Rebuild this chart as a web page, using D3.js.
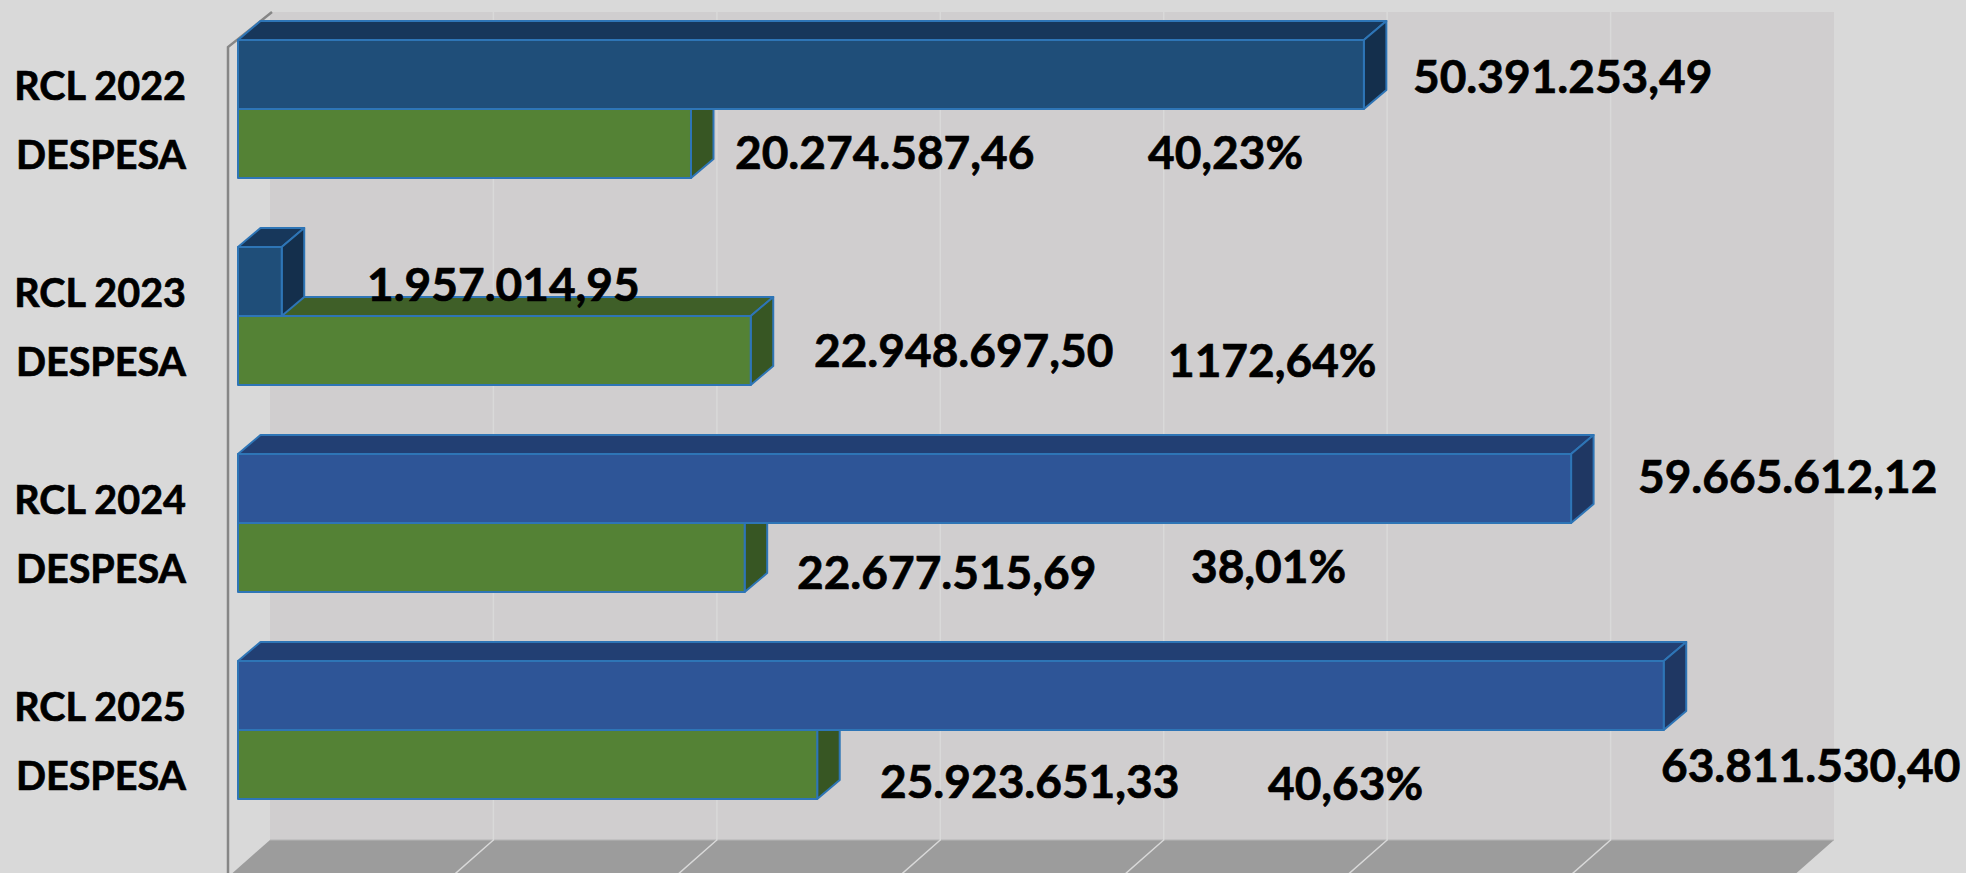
<!DOCTYPE html>
<html><head><meta charset="utf-8">
<script src="https://cdn.jsdelivr.net/npm/d3@7"></script>
<style>html,body{margin:0;padding:0;background:#d9d9d9;overflow:hidden}svg{display:block}text{font-family:Lato,"Open Sans",sans-serif;font-weight:700;fill:#000;stroke:#000;stroke-width:0.7px}</style>
</head><body><div id="chart"></div>
<script>
const years = ["2022","2023","2024","2025"];
const rclLabels = ["RCL 2022","RCL 2023","RCL 2024","RCL 2025"];
const despesaLabel = "DESPESA";
const rclValues = [50391253.49,1957014.95,59665612.12,63811530.40];
const despesaValues = [20274587.46,22948697.50,22677515.69,25923651.33];
const rclText = ["50.391.253,49","1.957.014,95","59.665.612,12","63.811.530,40"];
const despesaText = ["20.274.587,46","22.948.697,50","22.677.515,69","25.923.651,33"];
const pctText = ["40,23%","1172,64%","38,01%","40,63%"];
// palettes per year
const rclFront = ["#1f4e79","#1f4e79","#2e5597","#2e5597"];
const rclTop = ["#17375b","#17375b","#223f73","#223f73"];
const rclSide = ["#142f4c","#142f4c","#1f3763","#1f3763"];
// hand placement of the data labels [x, baseline]
const rclLabelPos = [[1413,93],[367,301],[1638,493],[1661,782]];
const despesaLabelPos = [[735,169],[814,367],[797,589],[880,798]];
const pctLabelPos = [[1148,169],[1168,377],[1191,583],[1268,800]];

const W=1966,H=873,dx=22.5,dy=19;
const svg=d3.select("#chart").append("svg").attr("width",W).attr("height",H);
const x=d3.scaleLinear().domain([0,70000000]).range([238,1802]);
const y=d3.scaleBand().domain(years).range([40,799]).paddingInner(1/3);
const rowH=y.bandwidth()/2;
const wallDx=32, wallTop=12, wallBottom=840;
const ticks=d3.range(0,80000000,10000000);

// back wall
svg.append("rect").attr("x",x(0)+wallDx).attr("y",wallTop).attr("width",x(70000000)-x(0)).attr("height",wallBottom-wallTop).attr("fill","#d0cecf");
// floor
const flDx=-42,flDy=37;
svg.append("polygon").attr("fill","#9c9c9c").attr("points",[
 [x(0)+wallDx,wallBottom],[x(70000000)+wallDx,wallBottom],[x(70000000)+wallDx+flDx,wallBottom+flDy],[x(0)+wallDx+flDx,wallBottom+flDy]].join(" "));
svg.append("line").attr("x1",x(0)+wallDx).attr("x2",x(70000000)+wallDx).attr("y1",wallBottom).attr("y2",wallBottom).attr("stroke","#b5b5b5").attr("stroke-width",1);
// grid
svg.selectAll(".gw").data(ticks.slice(1,-1)).join("path").attr("class","gw").attr("fill","none").attr("stroke","#d9d9d9").attr("stroke-width",1.5)
 .attr("d",t=>`M${x(t)+wallDx},${wallTop}V${wallBottom}l${flDx},${flDy}`);
// axis wall edge
svg.append("path").attr("fill","none").attr("stroke","#868686").attr("stroke-width",2.5)
 .attr("d",`M${x(0)+wallDx+2},${wallTop}L${x(0)-10},47V${H}`);

function bar(g,v,top,front,topC,side){
 const x0=x(0),x1=x(v),b=top+rowH;
 const s=g.append("g").attr("stroke","#2e75b6").attr("stroke-width",2).attr("stroke-linejoin","round");
 s.append("polygon").attr("fill",topC).attr("points",[[x0,top],[x0+dx,top-dy],[x1+dx,top-dy],[x1,top]].join(" "));
 s.append("polygon").attr("fill",side).attr("points",[[x1,top],[x1+dx,top-dy],[x1+dx,b-dy],[x1,b]].join(" "));
 s.append("rect").attr("x",x0).attr("y",top).attr("width",x1-x0).attr("height",rowH).attr("fill",front);
}
years.forEach((yr,i)=>{
 const g=svg.append("g");
 bar(g,despesaValues[i],y(yr)+rowH,"#548235","#3f5f28","#375623");
 bar(g,rclValues[i],y(yr),rclFront[i],rclTop[i],rclSide[i]);
});
// category labels
const fs=39.5;
years.forEach((yr,i)=>{
 svg.append("text").attr("x",186).attr("y",y(yr)+rowH/2+11.5).attr("dy","0.35em").attr("text-anchor","end").attr("font-size",fs).text(rclLabels[i]);
 svg.append("text").attr("x",186).attr("y",y(yr)+rowH*1.5+11.5).attr("dy","0.35em").attr("text-anchor","end").attr("font-size",fs).text(despesaLabel);
});
// data labels
function labels(txt,pos){
 svg.append("g").selectAll("text").data(txt).join("text").attr("x",(d,i)=>pos[i][0]).attr("y",(d,i)=>pos[i][1]).attr("font-size",46).text(d=>d);
}
labels(rclText,rclLabelPos);labels(despesaText,despesaLabelPos);labels(pctText,pctLabelPos);
</script></body></html>
